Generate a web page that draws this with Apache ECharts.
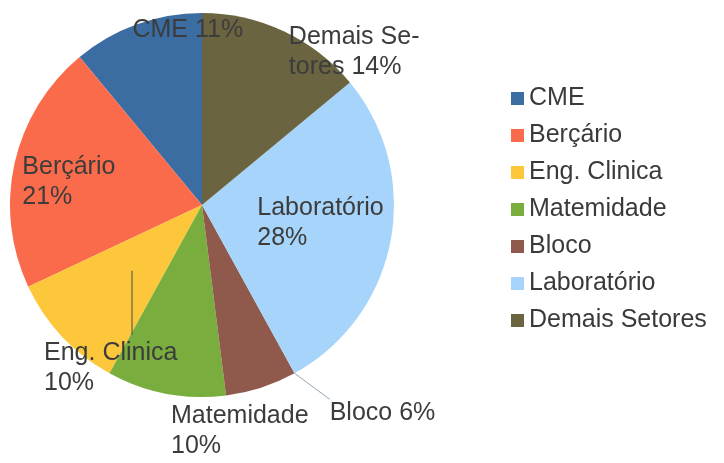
<!DOCTYPE html>
<html>
<head>
<meta charset="utf-8">
<script src="https://cdn.jsdelivr.net/npm/echarts@6/dist/echarts.min.js"></script>
<style>
  html, body { margin: 0; padding: 0; background: #ffffff; }
  #chart { width: 724px; height: 463px; }
</style>
</head>
<body>
<div id="chart"></div>
<script>
// Sector shares (percent), listed counter-clockwise from 12 o'clock
const categories = ['CME', 'Berçário', 'Eng. Clinica', 'Matemidade', 'Bloco', 'Laboratório', 'Demais Setores'];
const shares = [11, 21, 10, 10, 6, 28, 14];
const sliceColors = ['#3b6ca2', '#f96b4b', '#fdc73b', '#79ad3d', '#8f5a4b', '#a7d4fa', '#6b6440'];

// Pie geometry
const PIE_CX = 202;
const PIE_CY = 205;
const PIE_R = 192;
const START_ANGLE = 90;
const LABEL_LINE_HEIGHT = 30;

// Label placement: offset of each label's left/middle point from the slice's mid-radius point
const LABEL_OFFSETS = [
  [-37, -85],   // CME
  [-86, -2],    // Berçário
  [-88, 97],    // Eng. Clinica
  [-13, 132],   // Matemidade
  [98, 117],    // Bloco
  [-39, 0],     // Laboratório
  [46, -66]     // Demais Setores
];
const SINGLE_LINE = ['CME', 'Bloco'];

const total = shares.reduce((s, v) => s + v, 0);

function sliceAngles(i) {
  let before = 0;
  for (let k = 0; k < i; k++) before += shares[k];
  const a0 = START_ANGLE + before / total * 360;
  const a1 = a0 + shares[i] / total * 360;
  return [a0, a1];
}
function polar(angleDeg, r) {
  const t = angleDeg * Math.PI / 180;
  return [PIE_CX + r * Math.cos(t), PIE_CY - r * Math.sin(t)];
}
function labelAnchor(i) {
  const ang = sliceAngles(i);
  const mid = polar((ang[0] + ang[1]) / 2, PIE_R / 2);
  return { mid: mid, x: mid[0] + LABEL_OFFSETS[i][0], y: mid[1] + LABEL_OFFSETS[i][1] };
}

// Leader from the Eng. Clinica slice down to just above its label
const engIndex = categories.indexOf('Eng. Clinica');
const engAnchor = labelAnchor(engIndex);
const engLeader = [
  [engAnchor.mid[0], engAnchor.mid[1]],
  [engAnchor.mid[0], engAnchor.y - LABEL_LINE_HEIGHT - 3]
];

const chart = echarts.init(document.getElementById('chart'), null, { renderer: 'canvas' });

const pieData = categories.map((name, i) => {
  const item = { name: name, value: shares[i], itemStyle: { color: sliceColors[i] } };
  if (name === 'Bloco') {
    item.label = { position: 'outside', width: 220 };
    item.labelLine = { show: true, lineStyle: { color: '#8fa6b8', width: 1 } };
  }
  return item;
});

chart.setOption({
  animation: false,
  backgroundColor: '#ffffff',
  legend: {
    orient: 'vertical',
    left: 506,
    top: 81,
    icon: 'rect',
    itemWidth: 13,
    itemHeight: 13,
    itemGap: 12,
    selectedMode: false,
    data: categories,
    textStyle: {
      fontFamily: 'Liberation Sans',
      fontSize: 25,
      lineHeight: 25,
      color: '#3a3a3a'
    }
  },
  graphic: [{
    type: 'polyline',
    silent: true,
    z: 100,
    shape: { points: engLeader },
    style: { stroke: '#4a4a4a', lineWidth: 1, fill: null }
  }],
  series: [{
    type: 'pie',
    center: [PIE_CX, PIE_CY],
    radius: PIE_R,
    startAngle: START_ANGLE,
    clockwise: false,
    avoidLabelOverlap: false,
    silent: true,
    itemStyle: { borderWidth: 0 },
    label: {
      show: true,
      position: 'inside',
      fontFamily: 'Liberation Sans',
      fontSize: 25,
      lineHeight: LABEL_LINE_HEIGHT,
      color: '#3c3c3c',
      formatter: function (p) {
        if (p.name === 'Demais Setores') return 'Demais Se-\ntores ' + p.percent + '%';
        if (SINGLE_LINE.indexOf(p.name) >= 0) return p.name + ' ' + p.percent + '%';
        return p.name + '\n' + p.percent + '%';
      }
    },
    labelLine: { show: false },
    labelLayout: function (params) {
      const i = params.dataIndex;
      const a = labelAnchor(i);
      const res = { x: a.x, y: a.y, align: 'left', verticalAlign: 'middle' };
      if (categories[i] === 'Bloco') {
        const edge = polar(sliceAngles(i)[1], PIE_R);
        res.labelLinePoints = [[edge[0], edge[1]], [a.x, a.y - 14], [a.x, a.y - 14]];
      }
      return res;
    },
    data: pieData
  }]
});
</script>
</body>
</html>
